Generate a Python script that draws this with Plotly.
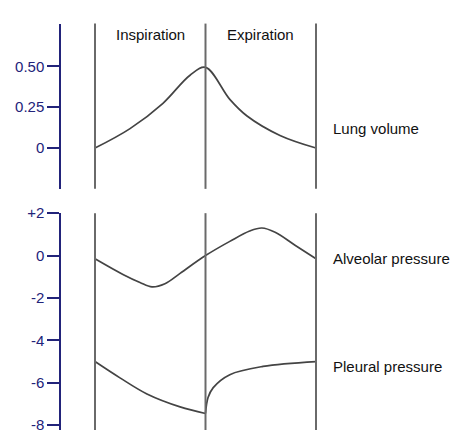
import plotly.graph_objects as go

# ---- data (time: inspiration 0..1, expiration 1..2) ----
phase_bounds = [0, 1, 2]
phase_names = ["Inspiration", "Expiration"]

vol_t = [0, 0.317, 0.615, 0.86, 1.0, 1.22, 1.376, 1.674, 2.0]
vol_v = [0, 0.119, 0.274, 0.446, 0.494, 0.298, 0.196, 0.077, 0]

alv_t = [0, 0.253, 0.407, 0.516, 0.633, 0.77, 1.0, 1.22, 1.40, 1.51, 1.63, 1.81, 2.0]
alv_v = [-0.15, -0.89, -1.27, -1.48, -1.33, -0.84, 0.0, 0.67, 1.16, 1.30, 1.1, 0.49, -0.15]

pl_in_t = [0, 0.226, 0.47, 0.77, 1.0]
pl_in_v = [-5.0, -5.77, -6.53, -7.14, -7.45]
pl_ex_t = [1.0, 1.023, 1.07, 1.22, 1.52, 2.0]
pl_ex_v = [-7.45, -6.7, -6.23, -5.62, -5.23, -5.0]

vol_ticks = [0, 0.25, 0.5]
vol_ticktext = ["0", "0.25", "0.50"]
pr_ticks = [2, 0, -2, -4, -6, -8]
pr_ticktext = ["+2", "0", "-2", "-4", "-6", "-8"]

series_labels = ["Lung volume", "Alveolar pressure", "Pleural pressure"]

W, H = 453, 433
NAVY = "#22237a"
CURVE = "#444444"
VLINE = "#6a6a6a"
FONT = "Liberation Sans, Arial, sans-serif"

fig = go.Figure()
line = dict(color=CURVE, width=1.7, shape="spline", smoothing=1.0)
fig.add_trace(go.Scatter(x=vol_t, y=vol_v, mode="lines", line=line, yaxis="y"))
fig.add_trace(go.Scatter(x=alv_t, y=alv_v, mode="lines", line=line, yaxis="y2"))
fig.add_trace(go.Scatter(x=pl_in_t, y=pl_in_v, mode="lines", line=line, yaxis="y2"))
fig.add_trace(go.Scatter(x=pl_ex_t, y=pl_ex_v, mode="lines", line=line, yaxis="y2"))

shapes = []
for b in phase_bounds:
    for yr in ["y domain", "y2 domain"]:
        shapes.append(dict(type="line", xref="x", yref=yr, x0=b, x1=b, y0=0, y1=1,
                           line=dict(color=VLINE, width=2)))

annotations = []
for i, name in enumerate(phase_names):
    annotations.append(dict(x=(phase_bounds[i] + phase_bounds[i + 1]) / 2, y=1 - 15 / H,
                            xref="x", yref="paper", text=name, showarrow=False,
                            font=dict(family=FONT, size=15, color="#111")))
label_py = [112, 257, 378]
for name, py in zip(series_labels, label_py):
    annotations.append(dict(x=331 / W, y=1 - py / H, xref="paper", yref="paper",
                            xanchor="left", text=name, showarrow=False,
                            font=dict(family=FONT, size=15, color="#111")))

x0 = -95 / 110.5
x1 = (W - 95) / 110.5

yax_common = dict(anchor="free", position=60 / W, showline=True, linecolor=NAVY, linewidth=1.5,
                  ticks="outside", ticklen=12, tickcolor=NAVY, tickwidth=1.5,
                  showgrid=False, zeroline=False, tickfont=dict(family=FONT, size=15, color=NAVY),
                  ticklabeloverflow="allow", fixedrange=True)

fig.update_layout(
    width=W, height=H, margin=dict(l=0, r=0, t=0, b=0),
    paper_bgcolor="white", plot_bgcolor="white", showlegend=False,
    xaxis=dict(range=[x0, x1], visible=False, fixedrange=True),
    yaxis=dict(domain=[1 - 185 / H, 1 - 15 / H], range=[-0.25, 0.762],
               tickvals=vol_ticks, ticktext=vol_ticktext, **yax_common),
    yaxis2=dict(domain=[0, 1 - 210 / H], range=[-8.23, 2],
                tickvals=pr_ticks, ticktext=pr_ticktext, **yax_common),
    shapes=shapes, annotations=annotations,
)

fig.write_html("out.html")
